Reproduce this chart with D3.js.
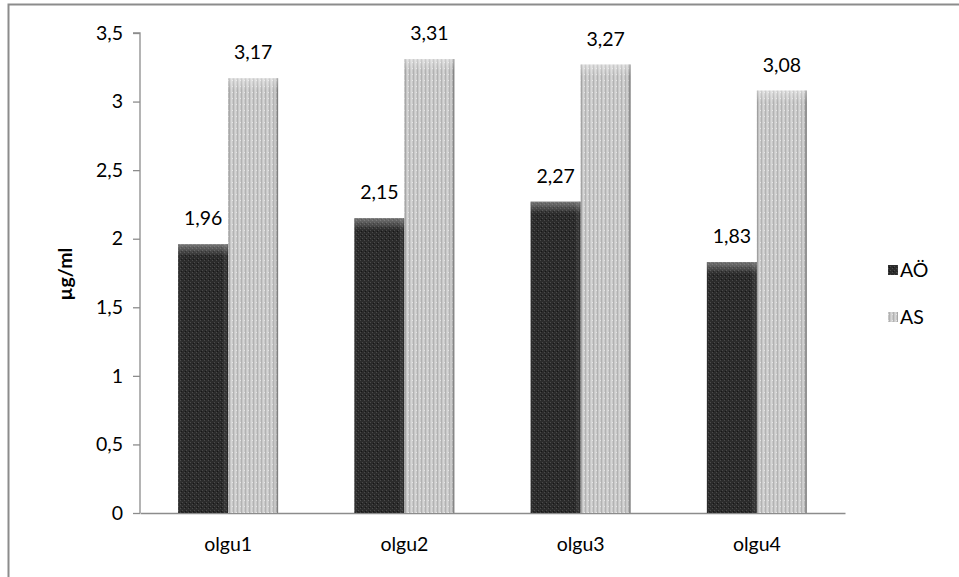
<!DOCTYPE html>
<html><head><meta charset="utf-8">
<script src="https://cdn.jsdelivr.net/npm/d3@7"></script>
<style>body{margin:0;background:#fff}svg{display:block}</style>
</head><body>
<script>
const categories = ["olgu1","olgu2","olgu3","olgu4"];
const seriesNames = ["AÖ","AS"];
const valuesAO = [1.96, 2.15, 2.27, 1.83];
const valuesAS = [3.17, 3.31, 3.27, 3.08];
const yTicks = [0,0.5,1,1.5,2,2.5,3,3.5];
const fmt = v => String(v).replace(".", ",");

const W = 959, H = 577;
const svg = d3.select("body").append("svg").attr("width", W).attr("height", H);
const font = "Lato, 'Open Sans', sans-serif";
const fs = 19.5;

const defs = svg.append("defs");
const pd = defs.append("pattern").attr("id","pDark").attr("width",4).attr("height",4).attr("patternUnits","userSpaceOnUse");
pd.append("rect").attr("width",4).attr("height",4).attr("fill","#2b2b2b");
pd.append("rect").attr("x",0).attr("y",0).attr("width",1).attr("height",1).attr("fill","#4a4a4a");
pd.append("rect").attr("x",2).attr("y",2).attr("width",1).attr("height",1).attr("fill","#4a4a4a");
pd.append("rect").attr("x",1).attr("y",3).attr("width",1).attr("height",1).attr("fill","#151515");
const pl = defs.append("pattern").attr("id","pLight").attr("width",4).attr("height",6).attr("patternUnits","userSpaceOnUse");
pl.append("rect").attr("width",4).attr("height",6).attr("fill","#c8c8c8");
pl.append("rect").attr("x",1).attr("width",1).attr("height",6).attr("fill","#b2b2b2");
pl.append("rect").attr("x",3).attr("width",1).attr("height",6).attr("fill","#d6d6d6");
pl.append("rect").attr("x",0).attr("y",2).attr("width",1).attr("height",1).attr("fill","#e6e6e6");
const gs = defs.append("linearGradient").attr("id","gSide").attr("x1",0).attr("x2",1).attr("y1",0).attr("y2",0);
gs.append("stop").attr("offset","0").attr("stop-color","#000").attr("stop-opacity",0.15);
gs.append("stop").attr("offset","0.08").attr("stop-color","#fff").attr("stop-opacity",0);
gs.append("stop").attr("offset","0.9").attr("stop-color","#fff").attr("stop-opacity",0);
gs.append("stop").attr("offset","1").attr("stop-color","#000").attr("stop-opacity",0.4);
const gt = defs.append("linearGradient").attr("id","gTop").attr("x1",0).attr("x2",0).attr("y1",0).attr("y2",1);
gt.append("stop").attr("offset","0").attr("stop-color","#fff").attr("stop-opacity",0.35);
gt.append("stop").attr("offset","1").attr("stop-color","#fff").attr("stop-opacity",0);

svg.append("rect").attr("x",8.5).attr("y",4.5).attr("width",W).attr("height",H).attr("fill","none").attr("stroke","#8c8c8c").attr("stroke-width",2);

const x0 = 140, x1 = 845, yTop = 33, yBot = 513;
const x = d3.scaleBand().domain(categories).range([x0, x1]).paddingInner(0).paddingOuter(0);
const xs = d3.scaleBand().domain(seriesNames).range([0, 100]);
const y = d3.scaleLinear().domain([0,3.5]).range([yBot, yTop]);

const ya = svg.append("g").attr("transform",`translate(${x0},0)`)
  .call(d3.axisLeft(y).tickValues(yTicks).tickFormat(fmt).tickSize(7).tickPadding(10));
ya.select(".domain").attr("stroke","#8c8c8c").attr("stroke-width",1.3).attr("d",`M-7,${yTop}H0V${yBot}`);
ya.selectAll(".tick line").attr("stroke","#8c8c8c").attr("stroke-width",1.3);
ya.selectAll("text").attr("font-family",font).attr("font-size",fs).attr("fill","#000");

const xa = svg.append("g").attr("transform",`translate(0,${yBot})`)
  .call(d3.axisBottom(x).tickSize(0).tickPadding(24));
xa.select(".domain").attr("stroke","#8c8c8c").attr("stroke-width",1.3);
xa.selectAll("text").attr("font-family",font).attr("font-size",fs).attr("fill","#000");

svg.append("text").attr("transform",`translate(72,274) rotate(-90)`).attr("text-anchor","middle")
  .attr("font-family",font).attr("font-size",fs).attr("font-weight","bold").text("µg/ml");

const series = [
  {name: "AÖ", vals: valuesAO, fill: "url(#pDark)"},
  {name: "AS", vals: valuesAS, fill: "url(#pLight)"}
];
series.forEach(s => {
  const g = svg.append("g");
  categories.forEach((c, i) => {
    const bx = x(c) + (x.bandwidth() - 100) / 2 + xs(s.name);
    const bw = xs.bandwidth();
    const by = y(s.vals[i]);
    const bh = yBot - by;
    g.append("rect").attr("x",bx).attr("y",by).attr("width",bw).attr("height",bh).attr("fill",s.fill);
    g.append("rect").attr("x",bx).attr("y",by).attr("width",bw).attr("height",bh).attr("fill","url(#gSide)");
    g.append("rect").attr("x",bx).attr("y",by).attr("width",bw).attr("height",Math.min(12,bh)).attr("fill","url(#gTop)");
    g.append("text").attr("x",bx + bw/2).attr("y",by - 19).attr("text-anchor","middle")
      .attr("font-family",font).attr("font-size",fs).attr("fill","#000").text(fmt(s.vals[i]));
  });
});

const leg = svg.append("g");
series.forEach((s, i) => {
  const ly = 270 + i * 47;
  leg.append("rect").attr("x",888).attr("y",ly - 5).attr("width",10).attr("height",10).attr("fill",s.fill);
  leg.append("rect").attr("x",888).attr("y",ly - 5).attr("width",10).attr("height",10).attr("fill","url(#gSide)");
  leg.append("text").attr("x",900).attr("y",ly).attr("dy","0.35em")
    .attr("font-family",font).attr("font-size",fs).attr("fill","#000").text(s.name);
});
</script>
</body></html>
